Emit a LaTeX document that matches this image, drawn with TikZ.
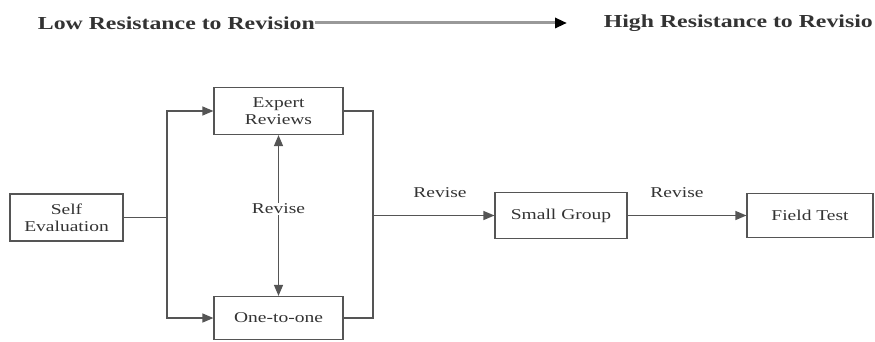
\documentclass[tikz,border=0pt]{standalone}
\usepackage{fontspec}
\setmainfont{Liberation Serif}[FakeStretch=1.3]
\usetikzlibrary{arrows.meta}
\definecolor{ink}{HTML}{333333}
\definecolor{linec}{HTML}{555555}
\begin{document}
\begin{tikzpicture}[x=1pt,y=-1pt,
  box/.style={draw=linec, line width=1.2pt, inner sep=0pt, align=center, text=ink,
    font=\fontsize{15}{17}\selectfont},
  conn/.style={draw=linec, line width=1.3pt},
  arr/.style={conn, -{Triangle[length=11pt,width=9pt]}},
  arr2/.style={conn, {Triangle[length=11pt,width=9pt]}-{Triangle[length=11pt,width=9pt]}},
  lbl/.style={text=ink, inner sep=1pt, font=\fontsize{15}{17}\selectfont},
  head/.style={text=ink, inner sep=0pt, font=\fontsize{18.3}{21}\selectfont\bfseries}]
\useasboundingbox (0,0) rectangle (875,342);
% header
\node[head, anchor=east] (low) at (315,23) {Low Resistance to Revision};
\node[head, anchor=east] (high) at (873,23) {High Resistance to Revisio};
\coordinate (tend) at (567,23);
\draw[draw=black!40, line width=3pt, -{Triangle[length=12pt,width=10pt,fill=black,color=black]}] (low.east) -- (tend);
% boxes
\node[box, minimum width=113pt, minimum height=47pt] (self) at (66.5,217.5) {Self\\Evaluation};
\node[box, minimum width=129pt, minimum height=47pt] (expert) at (278.5,111) {Expert\\Reviews};
\node[box, minimum width=129pt, minimum height=43pt] (one) at (278.5,318) {One-to-one};
\node[box, minimum width=132pt, minimum height=46pt] (small) at (561,215.5) {Small Group};
\node[box, minimum width=126pt, minimum height=44pt] (field) at (810,215.5) {Field Test};
% left split
\coordinate (lj) at (167,217.5);
\draw[conn] (self.east) -- (lj);
\draw[arr] (lj) |- (expert.west);
\draw[arr] (lj) |- (one.west);
% right join
\coordinate (rtop) at (373,111);
\coordinate (rbot) at (373,318);
\coordinate (rmid) at (373,215.5);
\draw[conn] (expert.east) -- (rtop) -- (rbot) -- (one.east);
\draw[arr] (rmid) -- (small.west);
\draw[arr] (small.east) -- (field.west);
% vertical revise
\draw[arr2] (expert.south) -- (one.north);
\node[lbl, fill=white] (rv) at (278.5,209) {Revise};
\node[lbl] (rv2) at (440,193) {Revise};
\node[lbl] (rv3) at (677,193) {Revise};
\end{tikzpicture}
\end{document}
